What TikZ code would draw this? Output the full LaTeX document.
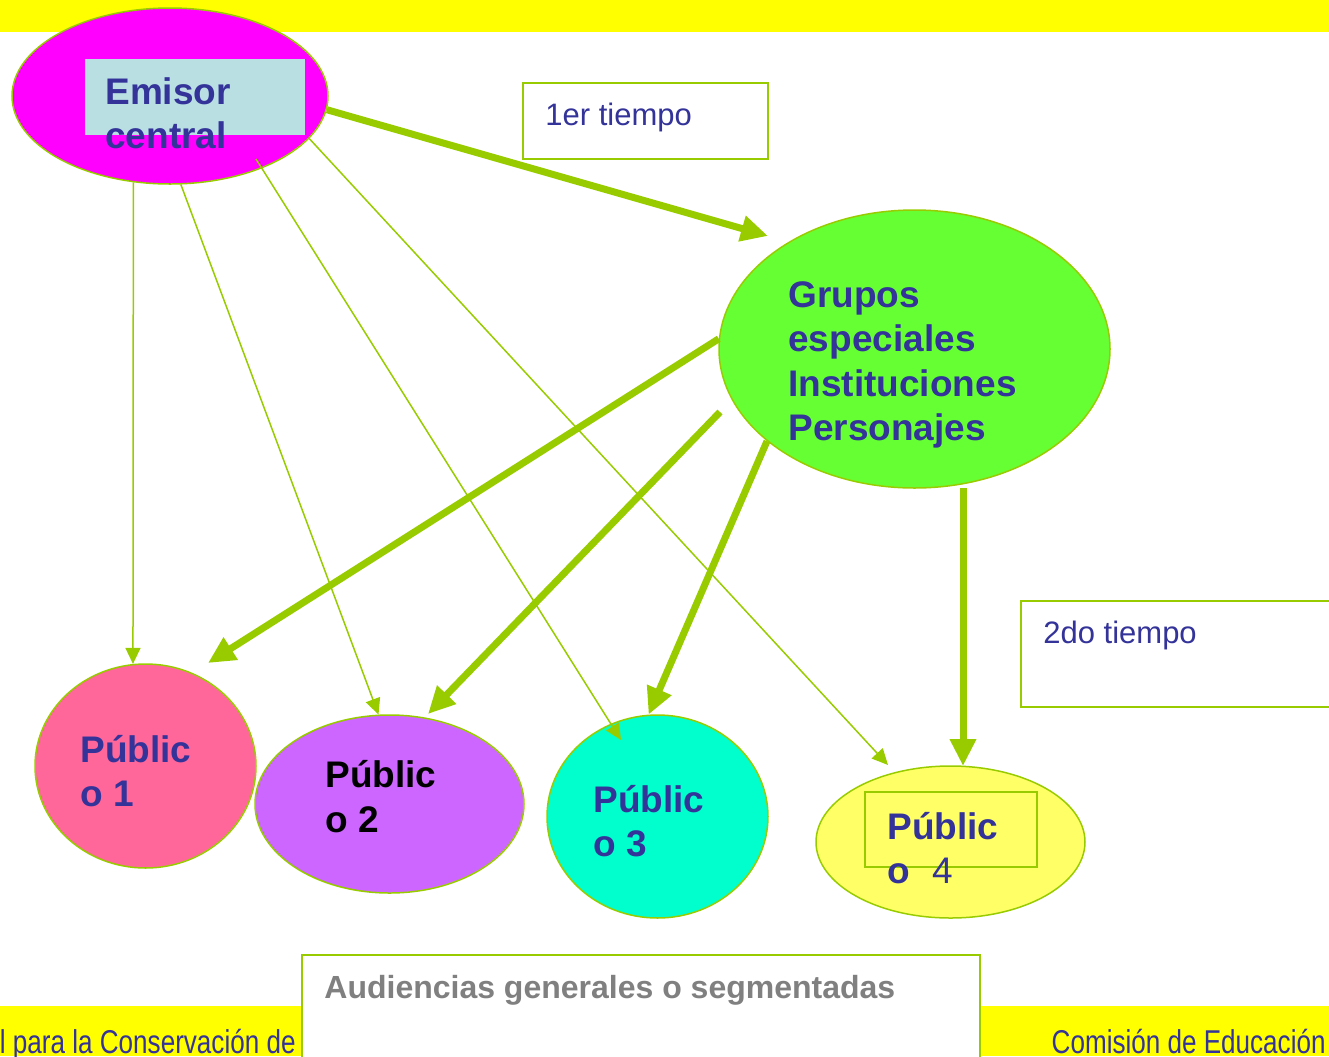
\documentclass[tikz,border=0pt]{standalone}
\usepackage{fontspec}
\setmainfont{Liberation Sans}
\newfontfamily\narrowfont[FakeStretch=0.79]{Liberation Sans}
\usetikzlibrary{arrows.meta,calc,shapes.geometric}

\definecolor{band}{RGB}{255,255,0}
\definecolor{leaf}{RGB}{153,204,0}
\definecolor{navy}{RGB}{51,51,153}
\definecolor{greytxt}{RGB}{128,128,128}
\definecolor{magentafill}{RGB}{255,0,255}
\definecolor{paleblue}{RGB}{185,223,227}
\definecolor{limefill}{RGB}{102,255,51}
\definecolor{pinkfill}{RGB}{255,102,153}
\definecolor{violetfill}{RGB}{204,102,255}
\definecolor{aquafill}{RGB}{0,255,204}
\definecolor{lemonfill}{RGB}{255,255,102}

\begin{document}
\begin{tikzpicture}[x=0.5pt,y=-0.5pt,
  bubble/.style={ellipse, draw=leaf, line width=0.75pt, inner sep=0pt},
  label box/.style={draw=leaf, line width=1pt, fill=white},
  bold txt/.style={anchor=base west, inner sep=0pt, text=navy,
    font=\fontsize{18.5}{22}\selectfont\bfseries},
  plain txt/.style={anchor=base west, inner sep=0pt, text=navy,
    font=\fontsize{15.5}{18}\selectfont},
  foot txt/.style={anchor=base east, inner sep=0pt, text=navy,
    font=\narrowfont\fontsize{16.5}{18}\selectfont},
  thick link/.style={draw=leaf, line width=3.5pt,
    -{Triangle[length=13.5pt,width=12.5pt]}},
  thin link/.style={draw=leaf, line width=0.75pt,
    -{Triangle[length=8pt,width=7.5pt]}}]

\useasboundingbox (0,0) rectangle (1329,1056);

% header and footer bands
\fill[band] (0,0) rectangle (1329,32);
\fill[band] (0,1006) rectangle (1329,1056);

% time labels
\node[label box, minimum width=122.5pt, minimum height=38pt] (t1box) at (645.5,121) {};
\path[label box] (1021,601) rectangle (1345,707);
\node[inner sep=0pt, minimum size=0pt] (t2box) at (1183,654) {};

% senders and audiences
\node[bubble, fill=magentafill, minimum width=158pt, minimum height=88pt] (emisor) at (170,96) {};
\fill[paleblue] (85,59) rectangle (305,135);
\node[bubble, fill=limefill, minimum width=195.5pt, minimum height=139pt] (grupos) at (914.5,349) {};
\node[bubble, fill=pinkfill, minimum width=110.5pt, minimum height=102pt] (p1) at (145.5,766) {};
\node[bubble, fill=violetfill, minimum width=134.5pt, minimum height=89pt] (p2) at (389.5,804) {};
\node[bubble, fill=aquafill, minimum width=110.5pt, minimum height=101.5pt] (p3) at (657.5,816.5) {};
\node[bubble, fill=lemonfill, minimum width=134.5pt, minimum height=76pt] (p4) at (950.5,842) {};
\draw[leaf, line width=0.9pt] (865,792) rectangle (1037,867);

% free ends of the connectors
\coordinate (c-start) at (256,159);
\coordinate (c-end) at (621,740);
\coordinate (d-end) at (888,765);
\coordinate (g-end) at (768,236);
\coordinate (p1-tip) at (208,663);
\coordinate (g3-start) at (720,412);
\coordinate (p2-tip) at (428,714);
\coordinate (g5-start) at (963,488);
\coordinate (p4-tip) at (963,766);

% direct messages from the central sender
\draw[thin link] (emisor.-113) -- (p1.97);
\draw[thin link] (emisor.-83) -- (p2.97);
\draw[thin link] (c-start) -- (c-end);
\draw[thin link] (emisor.-17) -- (d-end);

% two-step flow through the special groups
\draw[thick link] (emisor.-5) -- (g-end);
\draw[thick link] (grupos.177) -- (p1-tip);
\draw[thick link] (g3-start) -- (p2-tip);
\draw[thick link] (grupos.-148) -- (p3.95);
\draw[thick link] (g5-start) -- (p4-tip);

% texts
\node[bold txt] (em1) at (105,104) {Emisor};
\node[bold txt] (em2) at (105,148) {central};

\node[bold txt] (gr1) at (788,307) {Grupos};
\node[bold txt] (gr2) at (788,351) {especiales};
\node[bold txt] (gr3) at (788,396) {Instituciones};
\node[bold txt] (gr4) at (788,440) {Personajes};

\node[bold txt] (pa1) at (80,762) {Públic};
\node[bold txt] (pb1) at (80,806) {o 1};
\node[bold txt, text=black] (pa2) at (325,787) {Públic};
\node[bold txt, text=black] (pb2) at (325,832) {o 2};
\node[bold txt] (pa3) at (593,812) {Públic};
\node[bold txt] (pb3) at (593,856) {o 3};
\node[bold txt] (pa4) at (887,839) {Públic};
\node[bold txt] (pb4) at (887,883) {o\hspace{11pt}\mdseries 4};

\node[plain txt] (t1) at (545,125) {1er tiempo};
\node[plain txt] (t2) at (1043,643) {2do tiempo};

% audience caption and footer
\path[label box] (302,955) rectangle (980,1075);
\node[anchor=base west, inner sep=0pt, text=greytxt,
  font=\fontsize{16}{19}\selectfont\bfseries] (aud) at (324,998) {Audiencias generales o segmentadas};
\node[foot txt] (footl) at (296,1053) {l para la Conservación de};
\node[foot txt] (footr) at (1326,1053) {Comisión de Educación};
\end{tikzpicture}
\end{document}
